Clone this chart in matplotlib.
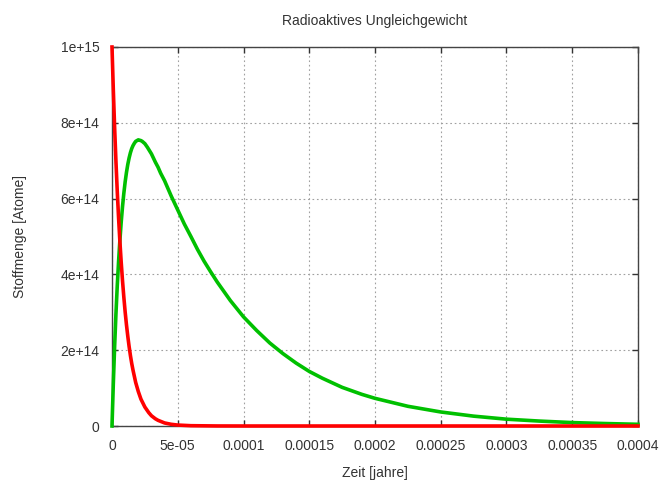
import matplotlib
matplotlib.use("Agg")
import matplotlib.pyplot as plt
from matplotlib.ticker import FixedLocator, FixedFormatter

# Data (time in years, amount in atoms)
t_parent = [0, 1e-6, 2e-6, 3e-6, 4e-6, 5e-6, 6e-6, 7e-6, 8e-6, 9e-6, 10e-6, 11e-6,
            12e-6, 13e-6, 14e-6, 15e-6, 16e-6, 18e-6, 20e-6, 22e-6, 25e-6, 28e-6,
            30e-6, 33e-6, 35e-6, 40e-6, 45e-6, 50e-6, 60e-6, 80e-6, 1e-4, 2e-4,
            3e-4, 4e-4]
n_parent = [1.0e15, 8.87e14, 7.87e14, 6.98e14, 6.19e14, 5.49e14, 4.87e14, 4.32e14,
            3.83e14, 3.40e14, 3.01e14, 2.67e14, 2.37e14, 2.10e14, 1.86e14, 1.65e14,
            1.47e14, 1.15e14, 9.1e13, 7.1e13, 5.0e13, 3.5e13, 2.7e13, 1.9e13,
            1.5e13, 8e12, 4.5e12, 2.5e12, 8e11, 1e11, 0, 0, 0, 0]

t_daughter = [0, 1e-6, 2e-6, 3e-6, 4e-6, 5e-6, 6e-6, 7e-6, 8e-6, 9e-6, 10e-6,
              11e-6, 12e-6, 13e-6, 14e-6, 15e-6, 16e-6, 17e-6, 18e-6, 19e-6,
              20e-6, 22e-6, 23e-6, 25e-6, 27e-6, 30e-6, 33e-6, 35e-6, 37e-6,
              40e-6, 45e-6, 50e-6, 55e-6, 60e-6, 65e-6, 70e-6, 75e-6, 80e-6,
              90e-6, 100e-6, 110e-6, 120e-6, 130e-6, 140e-6, 150e-6, 160e-6,
              175e-6, 190e-6, 200e-6, 225e-6, 250e-6, 275e-6, 300e-6, 325e-6,
              350e-6, 375e-6, 400e-6]
n_daughter = [0, 1.12e14, 2.10e14, 2.96e14, 3.70e14, 4.34e14, 4.90e14, 5.38e14,
              5.79e14, 6.14e14, 6.44e14, 6.69e14, 6.90e14, 7.07e14, 7.21e14,
              7.32e14, 7.40e14, 7.46e14, 7.51e14, 7.53e14, 7.55e14, 7.53e14,
              7.51e14, 7.45e14, 7.35e14, 7.18e14, 6.96e14, 6.83e14, 6.67e14,
              6.47e14, 6.07e14, 5.70e14, 5.33e14, 5.00e14, 4.66e14, 4.35e14,
              4.07e14, 3.80e14, 3.31e14, 2.88e14, 2.52e14, 2.19e14, 1.91e14,
              1.66e14, 1.44e14, 1.26e14, 1.02e14, 8.35e13, 7.3e13, 5.2e13,
              3.7e13, 2.6e13, 1.8e13, 1.3e13, 9e12, 6.5e12, 4.5e12]

x_ticks = [0, 5e-5, 1e-4, 1.5e-4, 2e-4, 2.5e-4, 3e-4, 3.5e-4, 4e-4]
x_labels = ["0", "5e-05", "0.0001", "0.00015", "0.0002", "0.00025", "0.0003",
            "0.00035", "0.0004"]
y_ticks = [0, 2e14, 4e14, 6e14, 8e14, 1e15]
y_labels = ["0", "2e+14", "4e+14", "6e+14", "8e+14", "1e+15"]

plt.rcParams['font.family'] = ['Liberation Sans', 'DejaVu Sans']

fig = plt.figure(figsize=(6.65, 4.86), dpi=100)
ax = fig.add_axes([112/665, 1-426/486, (638-112)/665, (426-47)/486])

ax.plot(t_daughter, n_daughter, color='#00c000', lw=2.6, clip_on=False, zorder=3,
        solid_joinstyle='round')
ax.plot(t_parent, n_parent, color='#ff0000', lw=2.6, clip_on=False, zorder=4,
        solid_joinstyle='round')

ax.set_xlim(0, 4e-4)
ax.set_ylim(0, 1e15)
ax.xaxis.set_major_locator(FixedLocator(x_ticks))
ax.xaxis.set_major_formatter(FixedFormatter(x_labels))
ax.yaxis.set_major_locator(FixedLocator(y_ticks))
ax.yaxis.set_major_formatter(FixedFormatter(y_labels))

ax.grid(True, color='#a0a0a0', linestyle=(0, (1.5, 2.5)), linewidth=0.8)
ax.tick_params(direction='in', length=4, width=1, top=True, right=True,
               labelsize=10, colors='#333333', labelcolor='#333333', pad=9)
for s in ax.spines.values():
    s.set_color('#444444')
    s.set_linewidth(1)

ax.set_title("Radioaktives Ungleichgewicht", fontsize=10, color='#333333', pad=16)
ax.set_xlabel("Zeit [jahre]", fontsize=10, color='#333333', labelpad=10)
ax.set_ylabel("Stoffmenge [Atome]", fontsize=10, color='#333333', labelpad=24)

fig.savefig("out.png", dpi=100)
